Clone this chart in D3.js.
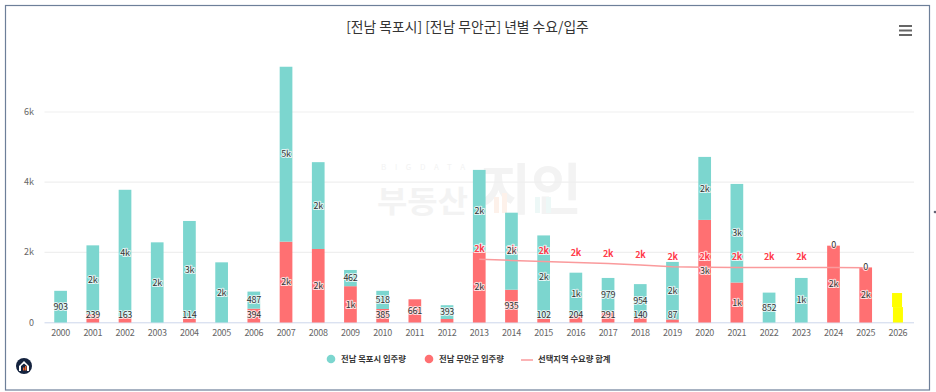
<!DOCTYPE html>
<html><head><meta charset="utf-8">
<script src="https://cdn.jsdelivr.net/npm/d3@7"></script>
<style>html,body{margin:0;padding:0;background:#fff}svg{display:block}
text{font-family:"Noto Sans CJK KR","Noto Sans",sans-serif}</style></head>
<body><svg id="c" width="936" height="392"></svg>
<script>
const years=[2000,2001,2002,2003,2004,2005,2006,2007,2008,2009,2010,2011,2012,2013,2014,2015,2016,2017,2018,2019,2020,2021,2022,2023,2024,2025,2026];
const mokpo=[903,1960,3620,2285,2780,1715,487,4985,2475,462,518,null,393,2340,2195,2380,1216,979,954,1640,1795,2810,852,1270,0,0,null];
const muan=[null,239,163,null,114,null,394,2305,2095,1035,385,661,100,2010,935,102,204,291,140,87,2925,1140,null,null,2190,1570,null];
const extra=[null,null,null,null,null,null,null,null,null,null,null,null,null,null,null,null,null,null,null,null,null,null,null,null,null,null,840];
const extraShoulder=440;
const demandYears=[2013,2014,2015,2016,2017,2018,2019,2020,2021,2022,2023,2024,2025];
const demand=[1803,1770,1740,1710,1680,1640,1590,1575,1570,1570,1570,1570,1560];
const demandLabelled=[2013,2014,2015,2016,2017,2018,2019,2020,2021,2022,2023];
const hiddenMuanLabels=[2012];
const yTicks=[0,2000,4000,6000];
const seriesNames=["전남 목포시 입주량","전남 무안군 입주량","선택지역 수요량 합계"];
const titleText="[전남 목포시] [전남 무안군] 년별 수요/입주";
const TEAL="#7cd6cf",RED="#ff7072",YEL="#ffff00";

const svg=d3.select("#c");
const x=d3.scaleBand().domain(years).range([44.5,914]).paddingInner(0).paddingOuter(0);
const y=d3.scaleLinear().domain([0,6000]).range([322.5,112]);
const bw=12.7;
const cx=d=>x(d)+x.bandwidth()/2;
const fmt=v=>v<1000?String(v):Math.round(v/1000)+"k";

// frame
svg.append("rect").attr("x",5.5).attr("y",5.5).attr("width",924).attr("height",384.5)
  .attr("fill","#fff").attr("stroke","#6d7f99").attr("stroke-width",1.2);

// watermark
const wm=svg.append("g").attr("fill","#f3f3f3").attr("text-anchor","start");
wm.append("text").attr("x",381).attr("y",170).attr("font-size",8).attr("textLength",84).attr("fill","#f3f3f3").text("BIGDATA");
wm.append("text").attr("x",377).attr("y",212).attr("font-size",30).attr("font-weight",700).attr("textLength",91).attr("lengthAdjust","spacingAndGlyphs").text("부동산");
wm.append("text").attr("x",480).attr("y",209).attr("font-size",55).attr("font-weight",700).attr("textLength",102).attr("lengthAdjust","spacingAndGlyphs").text("지인");
wm.append("rect").attr("x",494).attr("y",197).attr("width",5).attr("height",16).attr("fill","#fdf1ea");
wm.append("rect").attr("x",502).attr("y",193).attr("width",5).attr("height",20).attr("fill","#fdf1ea");
wm.append("rect").attr("x",535).attr("y",197).attr("width",5).attr("height",16).attr("fill","#edf8f7");
wm.append("rect").attr("x",546).attr("y",197).attr("width",5).attr("height",16).attr("fill","#edf8f7");

// title
svg.append("text").attr("x",467.5).attr("y",31.5).attr("text-anchor","middle").attr("font-size",13.8).attr("fill","#333").text(titleText);

// menu icon
svg.append("g").attr("stroke","#666").attr("stroke-width",2).selectAll("line").data([26,30.5,35]).join("line")
  .attr("x1",899).attr("x2",912).attr("y1",d=>d).attr("y2",d=>d);

// grid and axes
svg.append("g").selectAll("line").data(yTicks.slice(1)).join("line")
  .attr("x1",44.5).attr("x2",914).attr("y1",d=>y(d)).attr("y2",d=>y(d)).attr("stroke","#efefef").attr("stroke-width",1.2);
svg.append("line").attr("x1",44.5).attr("x2",914).attr("y1",322.8).attr("y2",322.8).attr("stroke","#ccd6eb");
svg.append("g").selectAll("text").data(yTicks).join("text")
  .attr("x",34).attr("y",d=>y(d)+3).attr("text-anchor","end").attr("font-size",9).attr("fill","#666")
  .text(d=>d===0?"0":(d/1000)+"k");
svg.append("g").selectAll("text").data(years).join("text")
  .attr("x",cx).attr("y",336).attr("text-anchor","middle").attr("font-size",9).attr("letter-spacing",-0.3).attr("fill","#666").text(d=>d);

// bars
const rows=years.map((yr,i)=>({yr,a:mokpo[i]||0,b:muan[i]||0,ra:mokpo[i],rb:muan[i],e:extra[i]}));
const bars=svg.append("g");
bars.selectAll(".b").data(rows.filter(d=>d.b>0)).join("rect")
  .attr("x",d=>cx(d.yr)-bw/2).attr("width",bw).attr("y",d=>y(d.b)).attr("height",d=>y(0)-y(d.b)).attr("fill",RED);
bars.selectAll(".a").data(rows.filter(d=>d.a>0)).join("rect")
  .attr("x",d=>cx(d.yr)-bw/2).attr("width",bw).attr("y",d=>y(d.a+d.b)).attr("height",d=>y(0)-y(d.a)).attr("fill",TEAL);
bars.selectAll(".e1").data(rows.filter(d=>d.e)).join("rect")
  .attr("x",d=>cx(d.yr)-bw/2+0.5).attr("width",bw-2.7).attr("y",d=>y(d.e)).attr("height",d=>y(extraShoulder)-y(d.e)).attr("fill",YEL);
bars.selectAll(".e2").data(rows.filter(d=>d.e)).join("rect")
  .attr("x",d=>cx(d.yr)-bw/2+1.4).attr("width",bw-2.7).attr("y",d=>y(extraShoulder)).attr("height",d=>y(0)-y(extraShoulder)).attr("fill",YEL);

// demand line
const line=d3.line().x((d,i)=>cx(demandYears[i])).y(d=>y(d));
svg.append("path").attr("d",line(demand)).attr("fill","none").attr("stroke","#fa9a9c").attr("stroke-width",1.5);

function lab(sel){return sel.attr("text-anchor","middle").attr("font-size",9).attr("letter-spacing",-0.3).attr("paint-order","stroke")
  .attr("stroke","#fff").attr("stroke-opacity",0.75).attr("stroke-width",2).attr("stroke-linejoin","round");}
// demand labels
lab(svg.append("g").selectAll("text").data(demandLabelled).join("text"))
  .attr("x",cx).attr("y",yr=>y(demand[demandYears.indexOf(yr)])-7)
  .attr("fill","#ff3b4a").attr("font-weight",700).text(yr=>fmt(demand[demandYears.indexOf(yr)]));

// bar labels
const labels=[];
rows.forEach(d=>{
  if(d.rb!=null&&!hiddenMuanLabels.includes(d.yr)) labels.push({yr:d.yr,v:d.rb,c:Math.min(y(d.b/2),315)});
  if(d.ra!=null) labels.push({yr:d.yr,v:d.ra,c:d.a===0?y(d.b)-1:Math.min(y(d.b+d.a/2),315)});
});
lab(svg.append("g").selectAll("text").data(labels).join("text"))
  .attr("x",d=>cx(d.yr)).attr("y",d=>d.c+3.2).attr("fill","#333").text(d=>fmt(d.v));

// legend
const lg=svg.append("g").attr("font-size",8.3).attr("font-weight",700).attr("fill","#333");
lg.append("circle").attr("cx",331).attr("cy",359).attr("r",4.3).attr("fill",TEAL);
lg.append("text").attr("x",341).attr("y",362).text(seriesNames[0]);
lg.append("circle").attr("cx",429).attr("cy",359).attr("r",4.3).attr("fill",RED);
lg.append("text").attr("x",439).attr("y",362).text(seriesNames[1]);
lg.append("line").attr("x1",521).attr("x2",533).attr("y1",360).attr("y2",360).attr("stroke","#fa9a9c").attr("stroke-width",1.5);
lg.append("text").attr("x",538).attr("y",362).text(seriesNames[2]);

// logo
const logo=svg.append("g").attr("transform","translate(24,366)");
logo.append("circle").attr("r",8).attr("fill","#14233f");
logo.append("path").attr("d","M-5,0 L0,-5 L5,0 L5,5 L3,5 L3,0 L0,-2.5 L-3,0 L-3,5 L-5,5 Z").attr("fill","#fff");
logo.append("rect").attr("x",-1).attr("y",1.5).attr("width",1.5).attr("height",3).attr("fill","#e8622a");
logo.append("rect").attr("x",1).attr("y",0).attr("width",1.5).attr("height",4.5).attr("fill","#e8622a");

// edge mark at right
svg.append("circle").attr("cx",935).attr("cy",212).attr("r",1.3).attr("fill","#667");
</script></body></html>
